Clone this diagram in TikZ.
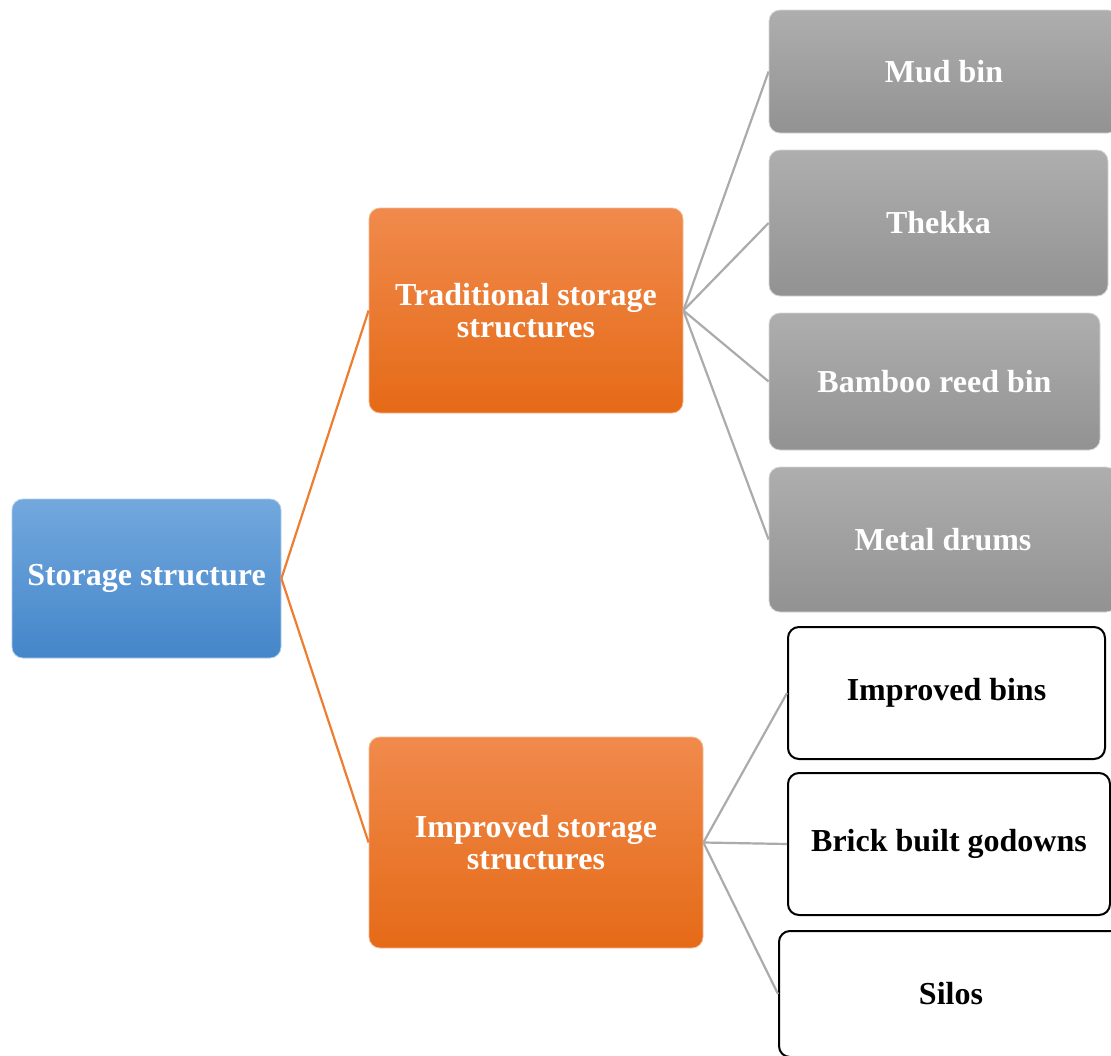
\documentclass[tikz,border=0pt]{standalone}
\usepackage{fontspec}
\setmainfont{Liberation Serif}
\definecolor{bluetop}{HTML}{72A8DD}
\definecolor{bluebot}{HTML}{4486CA}
\definecolor{orgtop}{HTML}{F08A4C}
\definecolor{orgbot}{HTML}{E56A17}
\definecolor{graytop}{HTML}{AEAEAE}
\definecolor{graybot}{HTML}{929292}
\definecolor{orgline}{HTML}{ED7D31}
\definecolor{grayline}{HTML}{ABABAB}
\tikzset{
  box/.style={rectangle, rounded corners=11pt, inner sep=0pt, align=center,
    font=\bfseries\fontsize{32}{32}\selectfont},
  bluebox/.style={box, top color=bluetop, bottom color=bluebot, draw=bluetop!60!white, line width=0.8pt, text=white},
  orgbox/.style={box, top color=orgtop, bottom color=orgbot, draw=orgtop!60!white, line width=0.8pt, text=white},
  graybox/.style={box, top color=graytop, bottom color=graybot, draw=graytop!50!white, line width=0.8pt, text=white},
  whitebox/.style={box, fill=white, draw=black, line width=2pt, text=black},
  orgconn/.style={draw=orgline, line width=2.2pt},
  grayconn/.style={draw=grayline, line width=2.2pt},
}
\begin{document}
\begin{tikzpicture}[x=1pt,y=-1pt]
\useasboundingbox (0,0) rectangle (1111,1055);
\clip (0,0) rectangle (1111,1055);
\node[bluebox, minimum width=269pt, minimum height=159pt] (root) at (146.5,578.5) {Storage structure};
\node[orgbox, minimum width=314pt, minimum height=205pt] (trad) at (526,310.5) {Traditional storage\\structures};
\node[orgbox, minimum width=334pt, minimum height=211pt] (impr) at (536,842.5) {Improved storage\\structures};
\node[graybox, minimum width=350pt, minimum height=123pt] (mud) at (944,71.5) {Mud bin};
\node[graybox, minimum width=339pt, minimum height=146pt] (thekka) at (938.5,223) {Thekka};
\node[graybox, minimum width=331pt, minimum height=137pt] (bamboo) at (934.5,381.5) {Bamboo reed bin};
\node[graybox, minimum width=348pt, minimum height=145pt] (metal) at (943,539.5) {Metal drums};
\node[whitebox, minimum width=317pt, minimum height=132pt] (bins) at (946.5,693) {Improved bins};
\node[whitebox, minimum width=322pt, minimum height=142pt] (brick) at (949,844) {Brick built godowns};
\node[whitebox, minimum width=344pt, minimum height=126pt] (silos) at (951,994) {Silos};
\draw[orgconn] (root.east) -- (trad.west);
\draw[orgconn] (root.east) -- (impr.west);
\foreach \t in {mud,thekka,bamboo,metal}
  \draw[grayconn] (trad.east) -- (\t.west);
\foreach \t in {bins,brick,silos}
  \draw[grayconn] (impr.east) -- (\t.west);
\end{tikzpicture}
\end{document}
